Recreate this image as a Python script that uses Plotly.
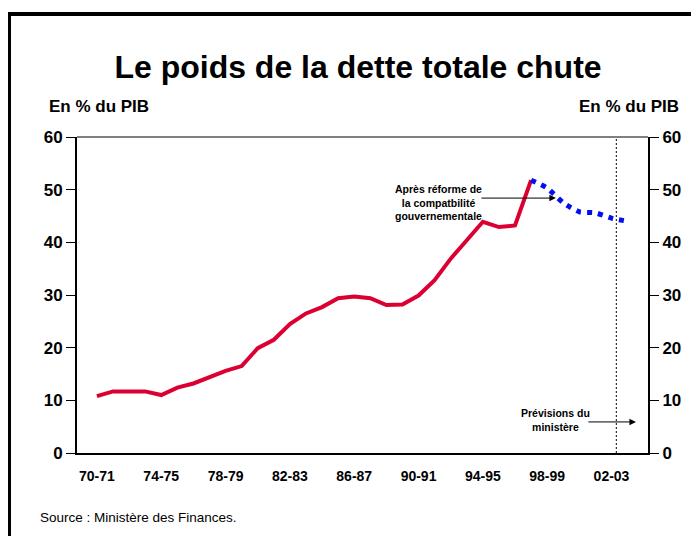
import plotly.graph_objects as go

# ---------------- data ----------------
periods = ["70-71", "71-72", "72-73", "73-74", "74-75", "75-76", "76-77", "77-78",
           "78-79", "79-80", "80-81", "81-82", "82-83", "83-84", "84-85", "85-86",
           "86-87", "87-88", "88-89", "89-90", "90-91", "91-92", "92-93", "93-94",
           "94-95", "95-96", "96-97", "97-98", "98-99", "99-00", "00-01", "01-02",
           "02-03", "03-04"]

actual_periods = periods[:28]          # 70-71 .. 97-98
debt_actual = [10.8, 11.7, 11.7, 11.7, 11.0, 12.4, 13.2, 14.4, 15.6, 16.5,
               19.9, 21.5, 24.5, 26.5, 27.7, 29.4, 29.7, 29.4, 28.1, 28.2,
               29.9, 32.8, 36.9, 40.4, 43.9, 42.9, 43.2, 51.8]

forecast_periods = periods[27:]        # 97-98 .. 03-04
debt_forecast = [51.8, 50.3, 47.5, 45.8, 45.6, 44.6, 44.0]

tick_labels = ["70-71", "74-75", "78-79", "82-83", "86-87", "90-91", "94-95",
               "98-99", "02-03"]
y_ticks = [0, 10, 20, 30, 40, 50, 60]

title_text = "Le poids de la dette totale chute"
unit_text = "En % du PIB"
note_reform = "Après réforme de<br>la compatbilité<br>gouvernementale"
note_forecast = "Prévisions du<br>ministère"
source_text = "Source : Ministère des Finances."

# ---------------- figure ----------------
pos = {p: i for i, p in enumerate(periods)}
FONT = "Liberation Sans, Arial, Helvetica, sans-serif"

fig = go.Figure()
fig.add_trace(go.Scatter(
    x=[pos[p] for p in actual_periods], y=debt_actual, mode="lines",
    line=dict(color="#DC0032", width=4), hoverinfo="skip", showlegend=False))
fig.add_trace(go.Scatter(
    x=[pos[p] for p in forecast_periods], y=debt_forecast, mode="lines",
    line=dict(color="#0010F0", width=5, dash="5px,6px", shape="spline", smoothing=0.6),
    hoverinfo="skip", showlegend=False, yaxis="y2"))

# the page body has an 8px margin: figure fits the remaining window
W, H = 691, 528
L, R, T, B = 69, 51, 129, 83
pw, ph = W - L - R, H - T - B

def px(xp):
    return (xp - L) / pw

def py(yp):
    return (H - B - yp) / ph

forecast_x = 32.3

axis_font = dict(family=FONT, size=17, color="black", weight="bold")
common_y = dict(range=[0, 60], tickvals=y_ticks, ticks="outside", ticklen=9,
                tickwidth=1, tickcolor="black", showline=True, linewidth=2,
                linecolor="black", showgrid=False, zeroline=False,
                tickfont=axis_font, fixedrange=True)

fig.update_layout(
    width=W, height=H,
    margin=dict(l=L, r=R, t=T, b=B, pad=0),
    paper_bgcolor="white", plot_bgcolor="white",
    font=dict(family=FONT, color="black"),
    title=dict(text=title_text, x=350 / W, xref="container", xanchor="center",
               y=1 - 59 / H, yref="container", yanchor="middle",
               font=dict(family=FONT, size=32, color="black", weight="bold")),
    xaxis=dict(range=[-1.24, 34.27], tickvals=[pos[t] for t in tick_labels],
               ticktext=tick_labels, ticks="", showline=True, linewidth=2,
               linecolor="black", showgrid=False, zeroline=False,
               tickfont=dict(family=FONT, size=14, color="black", weight="bold"),
               ticklabelstandoff=9),
    yaxis=dict(side="left", **common_y),
    yaxis2=dict(side="right", overlaying="y", **common_y),
    shapes=[
        # forecast boundary
        dict(type="line", xref="x", yref="paper", x0=forecast_x, x1=forecast_x,
             y0=0, y1=1, line=dict(color="black", width=1, dash="2px,2px")),
        # thin top frame of plot area
        dict(type="line", xref="paper", yref="paper", x0=0, x1=1, y0=1, y1=1,
             line=dict(color="black", width=1)),
        # outer border
        dict(type="rect", xref="paper", yref="paper",
             x0=px(1), x1=px(700), y0=py(6), y1=py(540),
             line=dict(color="black", width=4), fillcolor="rgba(0,0,0,0)"),
    ],
    annotations=[
        dict(text=unit_text, xref="paper", yref="paper", x=px(39), y=py(99),
             xanchor="left", yanchor="middle", showarrow=False,
             font=dict(family=FONT, size=17, color="black", weight="bold")),
        dict(text=unit_text, xref="paper", yref="paper", x=px(673), y=py(99),
             xanchor="right", yanchor="middle", showarrow=False,
             font=dict(family=FONT, size=17, color="black", weight="bold")),
        # reform note
        dict(text=note_reform, xref="x", yref="y", x=21.27, y=47.6,
             xanchor="center", yanchor="middle", showarrow=False, align="center",
             font=dict(family=FONT, size=10.5, color="black", weight="bold")),
        dict(text="", xref="x", yref="y", x=28.54, y=48.4, axref="x", ayref="y",
             ax=23.82, ay=48.4, showarrow=True, arrowhead=2, arrowsize=1.3,
             arrowwidth=1, arrowcolor="black"),
        # forecast note
        dict(text=note_forecast, xref="x", yref="y", x=28.54, y=6.2,
             xanchor="center", yanchor="middle", showarrow=False, align="center",
             font=dict(family=FONT, size=10.5, color="black", weight="bold")),
        dict(text="", xref="x", yref="y", x=33.52, y=5.9, axref="x", ayref="y",
             ax=30.47, ay=5.9, showarrow=True, arrowhead=2, arrowsize=1.3,
             arrowwidth=1, arrowcolor="black"),
        # source
        dict(text=source_text, xref="paper", yref="paper", x=px(30), y=py(509),
             xanchor="left", yanchor="middle", showarrow=False,
             font=dict(family=FONT, size=13.5, color="black")),
    ],
)

fig.write_html("out.html")
